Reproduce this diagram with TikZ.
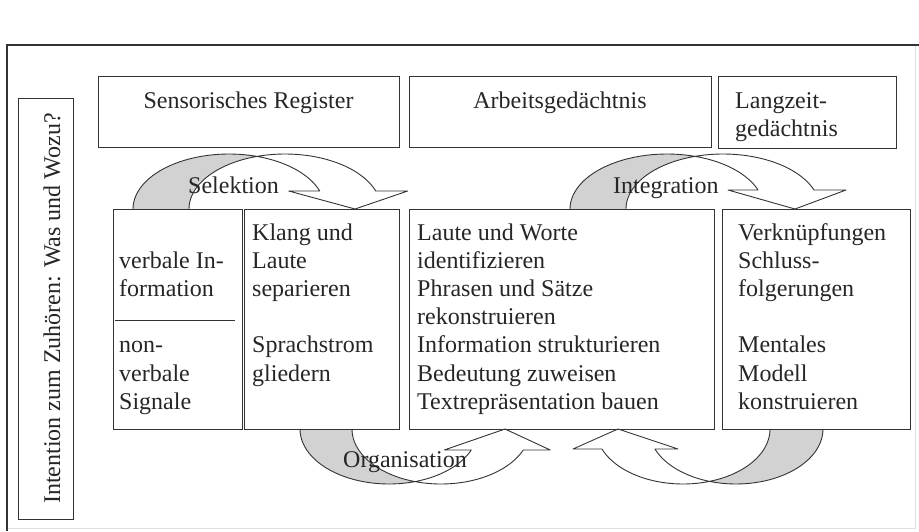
\documentclass[tikz,border=0pt]{standalone}
\usepackage{fontspec}
\setmainfont{Liberation Serif}
\definecolor{ln}{HTML}{333333}
\definecolor{crescentgray}{HTML}{D2D2D2}
\definecolor{txt}{HTML}{262626}
\def\arrRy{55}
\def\dIn{30}
% #1 x0, #2 y0, #3 sx, #4 sy, #5 rx, #6 band width, #7 neck height, #8 tip x, #9 outer wing
\newcommand\curvarrow[9]{%
  \pgfmathsetmacro\cA{#1+(#3)*#5}%
  \pgfmathsetmacro\cB{\cA+(#3)*#6}%
  \pgfmathsetmacro\phA{acos((#6/2)/#5)}%
  \pgfmathsetmacro\phB{180-\phA}%
  \pgfmathsetmacro\thN{asin(#7/\arrRy)}%
  \pgfmathsetmacro\nIn{\cA+(#3)*#5*cos(\thN)}%
  \pgfmathsetmacro\nOut{\nIn+(#3)*#6}%
  \pgfmathsetmacro\wIn{\nIn-(#3)*\dIn}%
  \pgfmathsetmacro\wOut{\nOut+(#3)*#9}%
  \pgfmathsetmacro\yN{#2-(#4)*#7}%
  \fill[white] (#1,#2)
    -- plot[domain=180:\phA,samples=30,variable=\q] ({\cA+(#3)*#5*cos(\q)},{#2-(#4)*\arrRy*sin(\q)})
    -- plot[domain=\phB:\thN,samples=30,variable=\q] ({\cB+(#3)*#5*cos(\q)},{#2-(#4)*\arrRy*sin(\q)})
    -- (\wOut,\yN) -- (#8,#2) -- (\wIn,\yN)
    -- plot[domain=\thN:\phA,samples=30,variable=\q] ({\cA+(#3)*#5*cos(\q)},{#2-(#4)*\arrRy*sin(\q)})
    -- plot[domain=\phB:180,samples=30,variable=\q] ({\cB+(#3)*#5*cos(\q)},{#2-(#4)*\arrRy*sin(\q)})
    -- cycle;
  \fill[crescentgray] (#1,#2)
    -- plot[domain=180:\phA,samples=30,variable=\q] ({\cA+(#3)*#5*cos(\q)},{#2-(#4)*\arrRy*sin(\q)})
    -- plot[domain=\phB:180,samples=30,variable=\q] ({\cB+(#3)*#5*cos(\q)},{#2-(#4)*\arrRy*sin(\q)})
    -- cycle;
  \draw[arrline] (#1,#2)
    -- plot[domain=180:\phA,samples=30,variable=\q] ({\cA+(#3)*#5*cos(\q)},{#2-(#4)*\arrRy*sin(\q)})
    -- plot[domain=\phB:\thN,samples=30,variable=\q] ({\cB+(#3)*#5*cos(\q)},{#2-(#4)*\arrRy*sin(\q)})
    -- (\wOut,\yN) -- (#8,#2) -- (\wIn,\yN)
    -- plot[domain=\thN:\phA,samples=30,variable=\q] ({\cA+(#3)*#5*cos(\q)},{#2-(#4)*\arrRy*sin(\q)})
    -- plot[domain=\phB:180,samples=30,variable=\q] ({\cB+(#3)*#5*cos(\q)},{#2-(#4)*\arrRy*sin(\q)});
}
\begin{document}
\begin{tikzpicture}[x=1pt,y=-1pt,
  box/.style={draw=ln, line width=1pt, inner sep=0pt, anchor=north west},
  arrline/.style={draw=ln, line width=0.9pt, line join=round},
  lbl/.style={text=txt, inner sep=0pt, font=\fontsize{24}{28.2}\selectfont},
  multi/.style={lbl, align=left, anchor=base west}]
\useasboundingbox (0,0) rectangle (919,531);
% outer frame
\draw[black!12, line width=1pt] (915,45) -- (915,528) -- (7,528);
\draw[ln, line width=1.6pt] (7,531) -- (7,45) -- (919,45);

% curved arrows
\def\dIn{31}\curvarrow{133}{209}{1}{1}{96}{56}{18}{355}{32}
\def\dIn{30}\curvarrow{570}{209}{1}{1}{97}{56}{19}{795}{32}
\def\dIn{27}\curvarrow{300}{429}{1}{-1}{89}{52}{21}{505}{27}
\def\dIn{23}\curvarrow{823}{429}{-1}{-1}{87}{53}{20}{618}{29}

% left box
\node[box, minimum width=55, minimum height=421] (intent) at (18,98) {};
\node[lbl, rotate=90, anchor=base] (intentT) at (60,308.5) {Intention zum Zuhören: Was und Wozu?};

% top boxes
\node[box, minimum width=301, minimum height=71] (sr) at (98,76) {};
\node[box, minimum width=302, minimum height=71] (ag) at (409,76) {};
\node[box, minimum width=178, minimum height=72] (lz) at (718,76) {};
\node[lbl, anchor=base] (srT) at (248.5,108) {Sensorisches Register};
\node[lbl, anchor=base] (agT) at (560,108) {Arbeitsgedächtnis};
% multi-line nodes: base anchor is the baseline of the last line
\node[multi] (lzT) at (735,136.2) {Langzeit-\\gedächtnis};

% bottom boxes
\node[box, minimum width=129, minimum height=220] (vb) at (113,209) {};
\node[box, minimum width=155, minimum height=220] (kl) at (244,209) {};
\node[box, minimum width=305, minimum height=220] (ap) at (409,209) {};
\node[box, minimum width=188, minimum height=220] (lp) at (722,209) {};
\draw[ln, line width=1pt] (115,320) -- (235,320);

\node[multi] (vbT) at (119,409.2) {verbale In-\\formation\\[28.2pt]non-\\verbale\\Signale};
\node[multi] (klT) at (252,381) {Klang und\\Laute\\separieren\\[28.2pt]Sprachstrom\\gliedern};
\node[multi] (apT) at (417,409.2) {Laute und Worte\\identifizieren\\Phrasen und Sätze\\rekonstruieren\\Information strukturieren\\Bedeutung zuweisen\\Textrepräsentation bauen};
\node[multi] (lpT) at (738,409.2) {Verknüpfungen\\Schluss-\\folgerungen\\[28.2pt]Mentales\\Modell\\konstruieren};

% arrow labels
\node[lbl, anchor=base west] (selT) at (188,193) {Selektion};
\node[lbl, anchor=base west] (intgT) at (613,193) {Integration};
\node[lbl, anchor=base west] (orgT) at (343,467) {Organisation};
\end{tikzpicture}
\end{document}
